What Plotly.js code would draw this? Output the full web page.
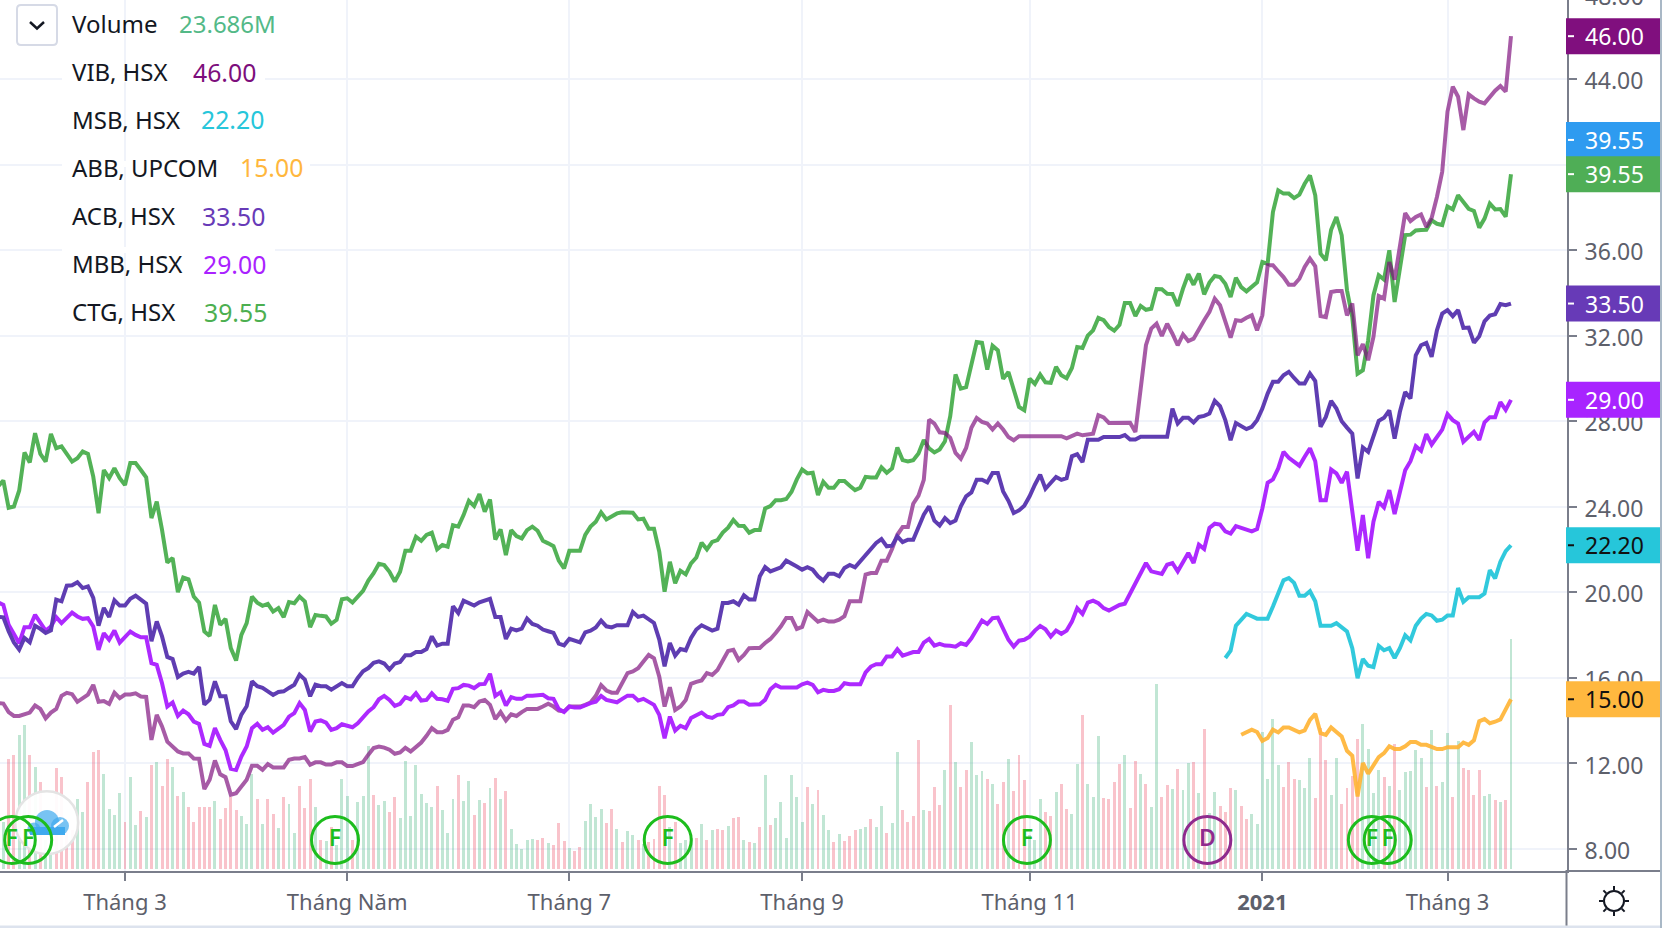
<!DOCTYPE html>
<html>
<head>
<meta charset="utf-8">
<script src="https://cdn.plot.ly/plotly-3.0.1.min.js"></script>
<style>html,body{margin:0;padding:0;background:#fff;overflow:hidden}#c{width:1662px;height:928px}</style>
</head>
<body>
<div id="c"></div>
<script>
// Session index of the first value in each price array
const ctgStart=-1, vibStart=-1, acbStart=-1, mbbStart=-1, msbStart=231, abbStart=234;

const ctg=[24.95,25.23,23.95,24.01,24.76,26.54,26.07,27.44,26.47,26.11,27.41,26.74,26.82,26.43,26.11,26.27,26.58,26.47,25.41,23.70,25.72,25.34,25.80,25.34,25.02,26.04,26.04,25.72,25.38,23.47,24.24,22.92,21.39,21.60,20.01,20.69,20.61,19.80,19.52,18.17,17.96,19.41,18.48,18.76,17.39,16.81,18.01,18.56,19.80,19.52,19.37,19.46,19.10,19.26,18.84,19.54,19.49,19.80,19.57,18.37,18.94,18.90,18.87,18.53,18.71,19.68,19.72,19.52,19.83,20.07,20.55,20.89,21.33,
21.27,20.96,20.50,20.96,21.94,21.94,22.60,22.41,22.68,22.79,22.01,22.21,22.13,23.14,23.07,23.61,24.28,24.03,24.59,23.77,24.34,22.47,22.94,21.74,22.91,22.63,22.52,22.91,23.07,22.88,22.41,22.29,22.16,21.48,21.12,21.94,21.94,21.94,22.68,23.07,23.30,23.74,23.41,23.56,23.69,23.74,23.74,23.72,23.41,23.44,22.97,22.97,21.90,20.03,21.43,20.42,21.01,20.84,21.35,21.63,22.32,22.01,22.36,22.44,22.79,23.02,23.38,23.11,23.10,22.79,
22.91,22.91,23.92,24.03,24.31,24.31,24.36,24.70,25.28,25.74,25.56,25.59,24.55,25.17,24.89,24.89,25.20,25.20,24.98,24.78,24.89,25.40,25.37,25.37,25.84,25.59,25.79,26.77,26.18,26.12,26.18,26.49,27.12,26.73,26.54,26.68,27.06,28.23,30.18,29.52,29.59,30.72,31.70,31.67,30.41,31.53,31.31,29.98,30.30,29.48,28.67,28.51,29.99,29.74,30.18,29.82,29.79,30.54,30.15,30.01,30.49,31.47,31.42,32.00,32.25,32.83,32.72,32.40,32.23,32.51,
33.53,33.53,32.92,33.39,33.21,33.26,34.18,34.17,33.96,33.95,33.39,34.20,34.87,34.38,34.90,33.93,34.48,34.79,34.74,34.43,33.81,34.71,34.27,34.07,34.27,34.49,35.44,35.36,37.78,38.79,38.64,38.64,38.43,38.59,39.10,39.49,38.56,35.83,35.52,36.95,37.55,36.69,34.12,32.87,30.22,30.38,31.78,33.88,34.82,34.62,35.99,33.57,35.13,36.70,36.72,36.92,36.94,36.95,37.39,37.23,37.17,38.04,37.90,38.56,38.25,37.93,37.83,37.05,37.47,38.17,37.90,37.92,37.56,39.55];

const vib=[14.82,14.80,14.40,14.22,14.22,14.29,14.38,14.71,14.55,14.11,14.38,14.55,15.16,15.30,15.24,14.88,15.05,15.22,15.67,14.88,14.92,14.78,15.31,15.05,15.22,15.22,15.28,15.13,15.11,13.10,14.27,13.73,13.02,12.79,12.56,12.47,12.47,12.23,12.22,10.80,11.24,12.14,11.49,11.36,10.54,10.61,10.92,11.24,11.89,11.89,11.70,11.97,11.81,11.81,11.81,12.17,12.23,12.23,12.30,11.94,12.05,12.05,11.95,11.95,12.05,12.05,11.88,11.88,11.95,12.06,12.41,12.72,12.79,
12.74,12.64,12.45,12.51,12.73,12.56,12.79,12.98,13.29,13.65,13.46,13.46,13.57,14.04,14.16,14.71,14.71,14.63,14.89,14.97,14.74,14.07,14.40,14.01,14.30,14.22,14.40,14.55,14.55,14.55,14.66,14.79,14.66,14.47,14.43,14.66,14.66,14.66,14.74,14.85,15.16,15.66,15.41,15.31,15.31,15.75,16.22,16.30,16.45,16.76,17.07,16.92,16.06,14.66,15.56,14.50,14.66,14.97,15.72,15.81,15.88,16.22,16.14,16.37,16.81,17.26,17.31,16.84,17.07,17.39,
17.40,17.40,17.63,17.82,18.10,18.41,18.80,18.80,18.29,18.38,19.08,18.88,18.63,18.72,18.63,18.63,18.72,18.88,19.58,19.58,19.58,20.83,20.90,20.90,21.48,21.48,22.02,22.69,23.05,23.05,24.14,24.52,25.26,28.07,27.89,27.48,27.45,27.22,26.52,26.25,26.75,27.69,28.15,27.97,27.89,27.61,27.89,27.61,27.26,27.11,27.30,27.30,27.30,27.30,27.30,27.30,27.30,27.30,27.30,27.20,27.33,27.42,27.34,27.37,27.42,28.28,28.18,27.92,27.92,27.95,
27.93,27.93,27.50,29.45,31.55,32.33,32.56,31.98,32.56,32.09,31.55,32.06,31.75,31.86,32.33,32.72,33.11,33.73,33.42,32.64,31.91,32.72,32.69,32.84,32.95,32.25,32.95,35.29,35.29,35.01,34.74,34.38,34.38,34.66,35.21,35.60,35.24,32.92,32.87,34.04,34.09,34.09,32.95,33.50,31.08,31.60,30.85,31.94,33.85,33.73,35.44,34.62,36.07,37.73,37.36,37.55,37.67,37.08,37.50,38.48,39.66,42.47,43.64,43.17,41.61,43.28,43.09,42.94,42.86,43.17,43.45,43.67,43.41,46.00];

const acb=[18.85,18.83,18.18,17.66,17.32,17.87,17.66,18.44,18.29,18.10,18.22,19.66,19.58,20.31,20.33,20.47,20.20,20.28,19.74,18.44,19.27,18.85,19.63,19.38,19.38,19.70,19.84,19.66,19.47,17.71,18.64,17.94,16.98,16.88,16.04,16.20,16.28,16.20,16.51,14.75,14.98,15.84,15.14,15.14,13.97,13.61,14.28,14.67,15.84,15.61,15.53,15.37,15.20,15.34,15.37,15.53,15.68,16.15,15.92,15.14,15.68,15.61,15.61,15.45,15.61,15.76,15.61,15.61,16.00,16.31,16.46,16.70,16.77,
16.67,16.39,16.67,16.74,17.06,17.06,17.21,17.21,17.35,17.94,17.51,17.60,17.60,19.35,19.03,19.61,19.47,19.38,19.53,19.63,19.70,18.85,18.85,17.82,18.30,18.22,18.30,18.77,18.52,18.44,18.26,18.18,18.10,17.60,17.52,17.83,17.76,17.66,18.13,18.21,18.36,18.68,18.41,18.36,18.46,18.46,18.46,19.08,18.85,18.91,18.75,18.57,17.79,16.54,17.63,17.04,17.35,17.29,17.87,18.26,18.46,18.33,18.21,18.30,19.50,19.50,19.58,19.42,19.86,19.66,
19.66,20.75,21.18,20.98,21.06,21.17,21.48,21.37,21.21,21.06,21.17,21.06,20.75,20.55,20.87,20.87,20.75,21.14,21.28,21.17,21.45,21.68,21.99,22.31,22.49,22.15,22.18,22.62,22.35,22.46,22.46,23.01,23.63,24.02,23.35,23.12,23.47,23.24,23.36,24.02,24.49,24.67,25.26,25.26,25.14,25.58,25.58,24.72,24.28,23.71,23.83,24.05,24.49,25.03,25.50,24.84,25.11,25.39,25.26,25.34,26.36,26.46,26.09,27.13,27.13,27.13,27.26,27.26,27.26,27.26,
27.35,27.14,27.14,27.27,27.27,27.27,27.27,27.27,27.27,28.59,27.89,28.16,28.16,27.94,28.20,28.25,28.36,28.95,28.70,28.05,27.11,27.92,27.77,27.63,27.74,28.05,28.59,29.29,29.84,29.84,30.15,30.31,30.02,29.76,29.76,30.23,29.88,27.74,28.20,28.95,28.59,28.00,27.70,27.42,25.32,26.77,26.57,27.27,28.02,28.16,28.51,27.19,28.44,29.37,29.06,31.08,31.55,31.66,31.01,32.25,33.03,33.19,32.91,33.19,32.36,32.38,31.67,31.97,32.67,32.94,33.00,33.48,33.42,33.50];

const mbb=[19.54,19.41,18.48,18.01,17.62,18.37,18.37,18.95,18.56,18.21,18.40,18.84,18.56,18.84,19.05,18.87,18.76,18.79,18.40,17.31,18.09,17.78,18.21,17.65,17.93,18.17,18.01,17.90,17.90,16.69,16.61,15.75,14.66,14.85,14.22,14.47,14.30,13.96,13.85,12.91,12.82,13.65,13.10,12.63,11.75,11.70,12.32,12.79,13.65,13.85,13.57,13.69,13.44,13.65,13.80,14.19,14.35,14.82,14.50,13.49,13.96,14.01,13.91,13.57,13.65,13.83,13.76,13.69,13.88,14.19,14.43,14.63,15.00,
15.16,14.97,14.69,14.79,15.10,15.00,15.28,14.94,14.97,15.28,15.02,15.00,14.93,15.49,15.52,15.67,15.64,15.52,15.70,15.72,16.19,15.16,15.33,14.71,15.10,15.02,15.02,15.17,15.17,15.17,15.21,15.05,15.02,14.54,14.40,14.66,14.61,14.61,14.74,14.82,14.89,15.16,14.97,14.93,14.86,15.02,15.17,15.17,14.94,15.02,14.89,14.74,14.27,13.18,14.19,13.54,13.76,13.65,14.12,14.27,14.38,14.19,14.13,14.27,14.30,14.63,14.71,14.89,14.89,14.74,
14.77,14.77,14.97,15.47,15.67,15.55,15.55,15.55,15.55,15.70,15.78,15.67,15.33,15.44,15.39,15.39,15.47,15.75,15.70,15.70,15.70,16.26,16.53,16.64,16.64,17.00,17.00,17.34,17.04,17.12,17.21,17.21,17.65,17.82,17.51,17.59,17.51,17.50,17.46,17.62,17.54,17.85,18.27,18.68,18.52,18.79,18.82,18.27,17.78,17.46,17.74,17.78,17.93,18.21,18.43,18.27,17.93,18.21,18.06,18.21,18.63,19.26,18.99,19.52,19.61,19.49,19.26,19.15,19.30,19.41,
19.47,19.94,20.36,20.90,21.37,20.98,20.94,20.86,21.29,21.37,20.98,21.45,21.84,21.37,22.23,22.03,23.01,23.21,23.17,22.85,22.75,23.09,23.01,22.90,22.85,22.96,23.92,25.12,25.28,25.79,26.57,26.29,26.10,25.92,26.34,26.73,26.13,24.31,24.31,25.74,25.56,25.12,25.64,23.69,21.94,23.61,21.59,23.30,24.23,23.97,24.78,23.66,24.62,25.71,26.13,26.83,26.62,27.40,26.91,27.24,27.61,28.33,28.05,27.89,27.04,27.27,27.50,27.13,27.95,28.19,28.19,28.89,28.53,29.00];

const msb=[16.93,17.27,18.44,18.72,18.99,18.88,18.77,18.77,18.77,19.34,19.97,20.56,20.67,20.44,19.84,19.84,20.05,19.58,18.44,18.44,18.44,18.56,18.36,18.17,17.39,15.99,16.88,16.57,16.51,17.50,17.29,17.39,16.93,17.39,17.99,17.75,18.44,18.77,18.99,18.92,18.67,18.72,18.92,18.92,20.20,19.55,19.77,19.77,19.77,19.94,21.04,20.65,21.43,21.93,22.20];

const abb=[13.34,13.47,13.58,13.47,13.06,13.19,13.58,13.45,13.68,13.68,13.58,13.45,13.54,14.04,14.32,13.42,13.34,13.68,13.47,13.26,12.59,12.36,10.46,12.02,11.52,11.94,12.30,12.48,12.80,12.67,12.67,12.80,13.00,13.00,12.87,12.87,12.75,12.67,12.67,12.76,12.76,12.76,12.98,12.87,13.08,13.97,14.08,13.88,13.95,14.06,14.53,15.00];

// Volume in millions, one per session from index 0
const volume=[4.80,11.32,11.76,13.82,14.85,11.76,10.53,8.99,3.00,3.00,10.43,9.50,4.00,4.00,7.20,5.90,8.99,12.07,12.28,9.78,6.17,5.59,7.82,4.87,9.50,4.56,6.00,5.39,10.74,11.04,8.58,11.32,10.53,7.55,7.96,6.41,4.80,6.41,6.41,6.41,7.03,5.15,6.28,7.37,6.11,5.49,4.63,9.78,7.20,4.63,7.20,5.66,4.22,7.44,6.69,3.70,8.58,6.28,9.26,6.41,2.98,2.92,4.36,2.50,9.26,7.55,2.98,6.93,7.55,12.69,7.65,6.62,
7.00,5.87,7.41,5.25,11.11,5.45,10.70,7.72,6.79,6.38,8.54,6.07,3.70,7.20,9.67,7.00,9.06,5.56,7.10,6.79,8.33,9.36,7.20,8.03,4.12,2.57,2.06,2.98,3.09,2.98,3.19,2.68,2.47,4.73,2.88,2.16,1.85,2.26,4.94,6.69,5.35,6.17,4.73,6.17,4.12,2.78,3.91,3.50,2.98,2.60,2.78,3.09,8.54,7.61,4.32,4.84,2.68,2.98,3.20,3.19,4.63,2.98,4.01,4.12,4.05,4.42,5.25,5.35,2.98,2.78,
2.68,4.32,9.67,4.53,5.25,6.89,3.19,9.67,7.41,4.84,8.44,6.69,8.13,5.56,4.01,2.78,3.60,2.88,3.40,4.01,4.12,4.32,5.15,4.32,6.48,3.70,4.73,12.04,6.07,4.84,5.45,13.27,6.07,5.97,8.44,6.59,10.19,16.88,11.01,8.44,10.19,13.07,9.67,10.08,9.26,8.75,6.69,8.95,11.32,8.03,11.73,9.16,3.50,3.00,7.20,5.87,5.45,7.92,8.75,6.17,5.66,10.80,15.85,8.75,7.41,13.69,7.31,7.20,8.95,10.80,
11.73,6.28,11.11,9.78,8.75,6.38,19.04,7.41,8.64,8.23,10.29,8.13,10.91,11.01,7.82,14.41,5.73,7.92,6.48,5.87,8.33,8.13,6.48,5.15,5.66,4.63,14.10,9.26,15.44,10.70,8.44,11.01,9.26,9.16,8.33,11.42,7.31,14.51,11.22,7.61,11.42,6.69,8.33,9.57,13.38,14.92,12.35,7.82,10.19,9.47,8.54,12.86,8.13,9.98,10.08,12.25,11.42,8.44,14.30,8.54,8.95,13.99,7.41,13.17,10.36,10.19,7.61,10.19,7.51,7.68,7.10,6.90,7.10,23.686];

// G = up session, R = down session
const volumeDirection=("GRRGGRGRGG RRRRGGRRRG GGGRGGRGRG RRGRGRRRRR GRRRRGGGRG RRGRGGRRRG RGRGGGRGGG RGGRRGGGGG GGRGGGRGGR GRGRGRGGGG GRRGRRRGRR GGGGRRGRGG RGRRRRGRGG GRGRGRRGRR GRGRGRGGGG GGRGRGGRGR RRGGRGGRGG RRRRGRRRGR GRRGGGRGRR GRRRGGGRRG RRGGRGGGRR RRGRRGRGGR RGRGGRGRGG RRRGRRGGGG GGRRRGGGRR RGGRRRRGGG GRGRGGGGGR GRGGRGRRRR GGRGRG").replace(/ /g,'').split('');

const priceTicks=[8,12,16,20,24,28,32,36,40,44];
const timeTickIndex=[23,65,107,151,194,238,273];
const timeTickLabels=['Tháng 3','Tháng Năm','Tháng 7','Tháng 9','Tháng 11','<b>2021</b>','Tháng 3'];

const eventIndex=[1.6,4.7,62.7,125.6,193.5,227.6,258.7,261.7];
const eventLabels=['F','F','F','F','F','D','F','F'];
const eventColors=['#1dbd1d','#1dbd1d','#1dbd1d','#1dbd1d','#1dbd1d','#8f2a8e','#1dbd1d','#1dbd1d'];

const legendRows=[
 ['Volume','23.686M','#53b987',23.5,177,24],
 ['VIB, HSX','46.00','#7d0e7c',71.5,191,24.8],
 ['MSB, HSX','22.20','#26c6da',119.5,199,24.8],
 ['ABB, UPCOM','15.00','#ffb73d',167.5,238,24.8],
 ['ACB, HSX','33.50','#673ab7',215.5,200,24.8],
 ['MBB, HSX','29.00','#aa22ff',263.5,201,24.8],
 ['CTG, HSX','39.55','#4caf50',311.5,202,24.8]
];
const priceTags=[
 [46.00,'46.00','#800f7e','#fff'],
 [41.15,'39.55','#2e9bf0','#fff'],
 [39.55,'39.55','#4fae56','#fff'],
 [33.50,'33.50','#673ab7','#fff'],
 [29.00,'29.00','#a824ff','#fff'],
 [22.20,'22.20','#26c6da','#111'],
 [15.00,'15.00','#ffb83f','#111']
];

// Pixel frame of the plot
const W=1662,H=928,PW=1567,PH=871;
const barStep=5.29, barOrigin=3.33, pxPerPrice=21.39, price8Y=849, volPerPx=0.103, volBaseY=869;
const priceRange=[8-(PH-price8Y)/pxPerPrice, 8+price8Y/pxPerPrice];
const volRange=[-(PH-volBaseY)*volPerPx, volBaseY*volPerPx];
const X=p=>p/PW, Y=p=>1-p/PH;
const idxOf=p=>(p-barOrigin)/barStep, volOf=p=>(volBaseY-p)*volPerPx;
const seq=(start,n)=>Array.from({length:n},(_,k)=>start+k);
const font='"Noto Sans", sans-serif';

function lineTrace(vals,start,color,name){
  return {type:'scatter',mode:'lines',name,x:seq(start,vals.length),y:vals,yaxis:'y2',
    line:{color,width:4,shape:'linear'},hoverinfo:'skip',showlegend:false};
}
const traces=[
 {type:'bar',x:seq(0,volume.length),y:volume,yaxis:'y',name:'Volume',width:0.56,
  marker:{color:volumeDirection.map(d=>d==='G'?'rgba(83,185,135,0.36)':'rgba(238,82,106,0.35)'),line:{width:0}},hoverinfo:'skip',showlegend:false},
 // watermark badge
 {type:'scatter',mode:'markers',x:[idxOf(46.7)],y:[volOf(822.7)],yaxis:'y',hoverinfo:'skip',showlegend:false,
  marker:{size:63,color:'rgba(255,255,255,0.93)',line:{color:'#e4e4e4',width:2.5}}},
 {type:'scatter',mode:'markers',x:[idxOf(34),idxOf(47),idxOf(60)],y:[volOf(829),volOf(822),volOf(826)],yaxis:'y',hoverinfo:'skip',showlegend:false,
  marker:{size:[13,24,18],color:'#3fa9ee',line:{width:0}}},
 {type:'scatter',mode:'lines',x:[idxOf(30),idxOf(65)],y:[volOf(831),volOf(831)],yaxis:'y',hoverinfo:'skip',showlegend:false,
  line:{color:'#3fa9ee',width:8}},
 {type:'scatter',mode:'lines',x:[idxOf(54),idxOf(63)],y:[volOf(827),volOf(820)],yaxis:'y',hoverinfo:'skip',showlegend:false,
  line:{color:'#ffffff',width:2.5}},
 // event rings
 {type:'scatter',mode:'markers+text',x:eventIndex,y:eventIndex.map(()=>volOf(840)),yaxis:'y',text:eventLabels,textposition:'middle center',
  textfont:{family:font,size:23,color:eventColors,weight:600},
  marker:{symbol:'circle-open',size:47,color:eventColors,line:{color:eventColors,width:3}},hoverinfo:'skip',showlegend:false},
 lineTrace(ctg,ctgStart,'rgba(76,175,80,0.96)','CTG'),
 lineTrace(vib,vibStart,'rgba(125,14,124,0.68)','VIB'),
 lineTrace(msb,msbStart,'rgba(38,198,218,0.95)','MSB'),
 lineTrace(abb,abbStart,'rgba(255,179,50,0.9)','ABB'),
 lineTrace(mbb,mbbStart,'rgba(170,34,255,0.97)','MBB'),
 lineTrace(acb,acbStart,'rgba(90,55,175,0.97)','ACB')
];

const shapes=[], annotations=[];
// legend backing + text
[[79,265],[164,310],[250,275]].forEach(r=>{
  shapes.push({type:'rect',xref:'paper',yref:'paper',x0:X(62),x1:X(r[1]),y0:Y(r[0]-3),y1:Y(r[0]+3),fillcolor:'#fff',line:{width:0},layer:'above'});});
legendRows.forEach(r=>{
  annotations.push({xref:'paper',yref:'paper',x:X(70),y:Y(r[3]),xanchor:'left',yanchor:'middle',showarrow:false,text:r[0],font:{family:font,size:24,color:'#131722'}});
  annotations.push({xref:'paper',yref:'paper',x:X(r[4]),y:Y(r[3]),xanchor:'left',yanchor:'middle',showarrow:false,text:r[1],font:{family:font,size:r[5],color:r[2]}});
});
// dropdown button
shapes.push({type:'path',xref:'paper',yref:'paper',layer:'above',line:{color:'#d6dae6',width:2},fillcolor:'#fff',
  path:`M ${X(21)} ${Y(5)} L ${X(53)} ${Y(5)} Q ${X(57)} ${Y(5)} ${X(57)} ${Y(9)} L ${X(57)} ${Y(41)} Q ${X(57)} ${Y(45)} ${X(53)} ${Y(45)} L ${X(21)} ${Y(45)} Q ${X(17)} ${Y(45)} ${X(17)} ${Y(41)} L ${X(17)} ${Y(9)} Q ${X(17)} ${Y(5)} ${X(21)} ${Y(5)} Z`});
shapes.push({type:'path',xref:'paper',yref:'paper',layer:'above',line:{color:'#131722',width:2.5},
  path:`M ${X(30)} ${Y(22)} L ${X(37)} ${Y(28.5)} L ${X(44)} ${Y(22)}`});
// frame
shapes.push({type:'line',xref:'paper',yref:'paper',layer:'above',x0:X(1566.5),x1:X(1566.5),y0:Y(870),y1:Y(928),line:{color:'#7a7e8b',width:2}});
shapes.push({type:'line',xref:'paper',yref:'paper',layer:'above',x0:X(1567),x1:X(1662),y0:Y(871),y1:Y(871),line:{color:'#7a7e8b',width:2}});
shapes.push({type:'line',xref:'paper',yref:'paper',layer:'above',x0:0,x1:X(1662),y0:Y(927),y1:Y(927),line:{color:'#dde3ee',width:3}});
shapes.push({type:'line',xref:'paper',yref:'paper',layer:'above',x0:X(1661),x1:X(1661),y0:Y(0),y1:Y(928),line:{color:'#a9b8c6',width:2}});
// price tags
const yP=v=>(v-priceRange[0])/(priceRange[1]-priceRange[0]);
const tagH=18/PH;
priceTags.forEach(t=>{
  shapes.push({type:'rect',xref:'paper',yref:'paper',layer:'above',x0:X(1566),x1:X(1660),y0:yP(t[0])-tagH,y1:yP(t[0])+tagH,fillcolor:t[2],line:{width:0}});
  shapes.push({type:'line',xref:'paper',yref:'paper',layer:'above',x0:X(1568),x1:X(1574),y0:yP(t[0]),y1:yP(t[0]),line:{color:t[3]==='#111'?'#111':'#fff',width:2}});
  annotations.push({xref:'paper',yref:'paper',x:X(1583),y:yP(t[0]),xanchor:'left',yanchor:'middle',showarrow:false,text:t[1],font:{family:font,size:23,color:t[3]}});
});
annotations.push({xref:'paper',yref:'paper',x:X(1583),y:Y(-4),xanchor:'left',yanchor:'middle',showarrow:false,text:'48.00',font:{family:font,size:23,color:'#5d606b'}});
// light/dark icon
const sx=1614, sy=901;
shapes.push({type:'circle',xref:'paper',yref:'paper',layer:'above',x0:X(sx-10),x1:X(sx+10),y0:Y(sy+10),y1:Y(sy-10),line:{color:'#131722',width:2}});
for(let a=0;a<8;a++){const c=Math.cos(a*Math.PI/4),s=Math.sin(a*Math.PI/4);
  shapes.push({type:'line',xref:'paper',yref:'paper',layer:'above',x0:X(sx+c*11),x1:X(sx+c*15),y0:Y(sy+s*11),y1:Y(sy+s*15),line:{color:'#131722',width:2}});}

const layout={
  width:W,height:H,autosize:false,showlegend:false,
  paper_bgcolor:'#fff',plot_bgcolor:'#fff',
  margin:{l:0,r:W-PW,t:0,b:H-PH,pad:0},
  font:{family:font,size:24,color:'#5d606b'},
  bargap:0,
  xaxis:{type:'linear',range:[idxOf(0),idxOf(PW)],tickmode:'array',tickvals:timeTickIndex,ticktext:timeTickLabels,
    showgrid:true,gridcolor:'#f0f3fa',gridwidth:2,zeroline:false,
    showline:true,linecolor:'#7a7e8b',linewidth:2,ticks:'outside',ticklen:8,tickwidth:2,tickcolor:'#7a7e8b',
    tickfont:{family:font,size:22,color:'#5d606b'},ticklabelstandoff:3,fixedrange:true},
  yaxis:{range:volRange,visible:false,fixedrange:true,showgrid:false,zeroline:false},
  yaxis2:{overlaying:'y',side:'right',anchor:'x',range:priceRange,tickmode:'array',tickvals:priceTicks,
    ticktext:priceTicks.map(v=>v.toFixed(2)),showgrid:true,gridcolor:'#f0f3fa',gridwidth:2,zeroline:false,
    showline:true,linecolor:'#7a7e8b',linewidth:2,ticks:'outside',ticklen:8,tickwidth:2,tickcolor:'#7a7e8b',
    tickfont:{family:font,size:23,color:'#5d606b'},ticklabelstandoff:3,fixedrange:true},
  shapes,annotations
};
Plotly.newPlot('c',traces,layout,{displayModeBar:false,staticPlot:true,responsive:false}).then(()=>{
  // nudge price tick labels down to the reference baseline
  document.querySelectorAll('.y2tick text').forEach(t=>{t.setAttribute('y',parseFloat(t.getAttribute('y'))+2);});
});
</script>
</body>
</html>
